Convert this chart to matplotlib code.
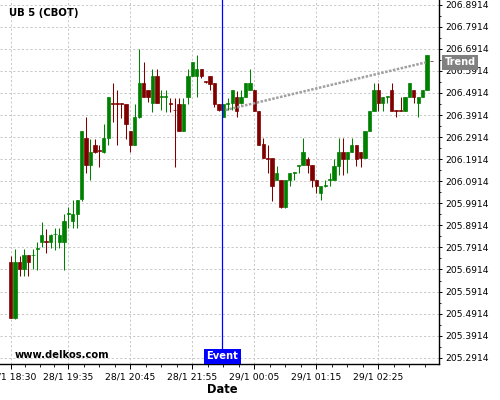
import matplotlib
matplotlib.use("Agg")
import matplotlib.pyplot as plt
import matplotlib.transforms as mtransforms
import numpy as np
import pandas as pd

# ---- data (5-minute bars, UB CBOT) ----
opens = [205.726, 205.472, 205.726, 205.695, 205.757, 205.755, 205.785, 205.817, 205.820, 205.817,
         205.850, 205.817, 205.817, 205.944, 205.911, 205.942, 206.009, 206.287, 206.163, 206.255,
         206.232, 206.224, 206.287, 206.446, 206.446, 206.446, 206.441, 206.318, 206.257, 206.382,
         206.536, 206.505, 206.444, 206.568, 206.472, 206.472, 206.446, 206.416, 206.441, 206.320,
         206.474, 206.568, 206.568, 206.599, 206.544, 206.568, 206.536, 206.441, 206.384, 206.442,
         206.444, 206.472, 206.444, 206.474, 206.505, 206.505, 206.409, 206.259, 206.197, 206.195,
         206.097, 206.097, 205.973, 206.097, 206.128, 206.161, 206.163, 206.193, 206.163, 206.097,
         206.039, 206.070, 206.099, 206.097, 206.160, 206.225, 206.193, 206.225, 206.255, 206.225,
         206.195, 206.320, 206.410, 206.505, 206.444, 206.472, 206.505, 206.412, 206.412, 206.410,
         206.474, 206.505, 206.444, 206.474, 206.505, 206.638]
highs = [205.754, 205.782, 205.754, 205.782, 205.757, 205.782, 205.814, 205.908, 205.875, 205.850,
         205.878, 205.878, 205.943, 205.974, 206.005, 206.006, 206.318, 206.381, 206.284, 206.284,
         206.255, 206.351, 206.473, 206.535, 206.505, 206.446, 206.441, 206.318, 206.441, 206.689,
         206.633, 206.505, 206.599, 206.599, 206.505, 206.505, 206.470, 206.470, 206.470, 206.470,
         206.599, 206.630, 206.663, 206.599, 206.544, 206.568, 206.536, 206.441, 206.441, 206.470,
         206.505, 206.500, 206.505, 206.536, 206.599, 206.505, 206.409, 206.286, 206.255, 206.195,
         206.160, 206.097, 206.097, 206.130, 206.132, 206.165, 206.286, 206.200, 206.163, 206.097,
         206.069, 206.097, 206.130, 206.193, 206.286, 206.286, 206.225, 206.286, 206.255, 206.225,
         206.320, 206.410, 206.535, 206.535, 206.474, 206.476, 206.535, 206.412, 206.472, 206.474,
         206.535, 206.505, 206.474, 206.505, 206.663, 206.638]
lows = [205.470, 205.468, 205.661, 205.661, 205.661, 205.692, 205.690, 205.794, 205.764, 205.787,
        205.779, 205.790, 205.690, 205.879, 205.878, 205.879, 206.000, 206.130, 206.097, 206.218,
        206.157, 206.218, 206.255, 206.361, 206.255, 206.376, 206.284, 206.225, 206.257, 206.380,
        206.474, 206.450, 206.406, 206.444, 206.414, 206.406, 206.406, 206.157, 206.320, 206.320,
        206.440, 206.568, 206.474, 206.560, 206.536, 206.505, 206.430, 206.410, 206.384, 206.414,
        206.414, 206.381, 206.441, 206.474, 206.505, 206.409, 206.255, 206.195, 206.127, 206.003,
        206.097, 205.970, 205.970, 206.070, 206.097, 206.127, 206.163, 206.130, 206.066, 206.036,
        206.006, 206.066, 206.069, 206.097, 206.120, 206.120, 206.127, 206.225, 206.160, 206.157,
        206.195, 206.320, 206.410, 206.410, 206.410, 206.444, 206.410, 206.381, 206.408, 206.410,
        206.474, 206.444, 206.381, 206.474, 206.505, 206.634]
closes = [205.472, 205.726, 205.695, 205.757, 205.726, 205.759, 205.789, 205.847, 205.816, 205.847,
          205.854, 205.847, 205.911, 205.948, 205.941, 206.006, 206.318, 206.163, 206.224, 206.224,
          206.228, 206.287, 206.473, 206.442, 206.442, 206.442, 206.350, 206.257, 206.382, 206.536,
          206.474, 206.474, 206.568, 206.444, 206.476, 206.476, 206.442, 206.412, 206.320, 206.441,
          206.568, 206.630, 206.599, 206.568, 206.540, 206.534, 206.441, 206.414, 206.441, 206.446,
          206.505, 206.411, 206.472, 206.536, 206.535, 206.409, 206.255, 206.195, 206.193, 206.069,
          206.130, 205.973, 206.097, 206.130, 206.132, 206.165, 206.225, 206.163, 206.097, 206.069,
          206.069, 206.074, 206.103, 206.160, 206.225, 206.193, 206.225, 206.255, 206.193, 206.195,
          206.320, 206.410, 206.505, 206.444, 206.474, 206.476, 206.410, 206.408, 206.408, 206.474,
          206.535, 206.474, 206.474, 206.505, 206.663, 206.634]

# bar times: session break between 21:55 and 23:00
times = list(pd.date_range("2024-01-28 18:30", "2024-01-28 21:55", freq="5min")) + \
        list(pd.date_range("2024-01-28 23:00", "2024-01-29 03:25", freq="5min"))

tick_labels = ["28/1 18:30", "28/1 19:35", "28/1 20:45", "28/1 21:55",
               "29/1 00:05", "29/1 01:15", "29/1 02:25"]
y_tick_values = [205.2914, 205.3914, 205.4914, 205.5914, 205.6914, 205.7914, 205.8914,
                 205.9914, 206.0914, 206.1914, 206.2914, 206.3914, 206.4914, 206.5914,
                 206.6914, 206.7914, 206.8914]

trend_index = [48.5, 93.7]
trend_value = [206.414, 206.630]
event_index = 47.8

# ---- figure ----
fig = plt.figure(figsize=(5, 4), dpi=100)
ax = fig.add_axes([0.0, 0.089, 0.8786, 0.911])

x = np.arange(len(opens))
o = np.array(opens); h = np.array(highs); l = np.array(lows); c = np.array(closes)
up = c >= o
green = "#008000"
red = "#800000"
cols = np.where(up, green, red)

ax.vlines(x, l, h, colors=cols, linewidth=0.75, zorder=3)
ax.bar(x, np.abs(c - o), bottom=np.minimum(o, c), width=0.75, color=cols,
       edgecolor=cols, linewidth=0.5, zorder=4)

# trend line
ax.plot(trend_index, trend_value, color="#a0a0a0", linewidth=1.8,
        linestyle=(0, (1, 0.6)), zorder=5)

# event line
ax.axvline(event_index, color="#0000ff", linewidth=0.9, zorder=6)

ax.set_xlim(-2.42, 96.75)
ax.set_ylim(205.2612, 206.9127)

# x ticks
label_to_idx = {t.strftime("%d/%m %H:%M").lstrip("0").replace("/01", "/1"): i for i, t in enumerate(times)}
tick_idx = [label_to_idx[s] for s in tick_labels]
ax.set_xticks(tick_idx)
ax.set_xticklabels(tick_labels, fontsize=6.7)
minor = []
for a, b in zip(tick_idx[:-1], tick_idx[1:]):
    minor += [a + (b - a) * k / 4 for k in (1, 2, 3)]
step = (tick_idx[-1] - tick_idx[-2]) / 4
minor += [tick_idx[-1] + step * k for k in (1, 2, 3)]
ax.set_xticks(minor, minor=True)

# y ticks on right
ax.yaxis.tick_right()
ax.set_yticks(y_tick_values)
ax.set_yticklabels([f"{v:.4f}" for v in y_tick_values], fontsize=6.6)
ax.set_yticks([v + 0.05 for v in y_tick_values[:-1]], minor=True)

ax.tick_params(axis="x", which="major", length=3.6, width=0.7, pad=2.5, direction="out")
ax.tick_params(axis="x", which="minor", length=2.2, width=0.6, direction="out")
ax.tick_params(axis="y", which="major", length=2.4, width=0.7, pad=1.8, direction="out")
ax.tick_params(axis="y", which="minor", length=1.5, width=0.6, direction="out")

for s in ("left", "top"):
    ax.spines[s].set_visible(False)
for s in ("right", "bottom"):
    ax.spines[s].set_linewidth(1.0)
    ax.spines[s].set_color("black")

ax.grid(True, which="major", color="#c8c8c8", linestyle=(0, (2.2, 2.2)), linewidth=0.7)
ax.set_axisbelow(True)

# texts
ax.text(0.02, 0.965, "UB 5 (CBOT)", transform=ax.transAxes, fontsize=7.3,
        fontweight="bold", ha="left", va="center")
ax.text(0.034, 0.027, "www.delkos.com", transform=ax.transAxes, fontsize=7.2,
        fontweight="bold", ha="left", va="center")

trans_e = mtransforms.blended_transform_factory(ax.transData, ax.transAxes)
ax.text(event_index, 0.022, "Event", transform=trans_e, fontsize=7.2, fontweight="bold",
        color="white", ha="center", va="center",
        bbox=dict(boxstyle="square,pad=0.28", fc="#0000ff", ec="none"), zorder=7)

trans_t = mtransforms.blended_transform_factory(ax.transAxes, ax.transData)
ax.text(1.012, trend_value[-1], "Trend", transform=trans_t, fontsize=7.0, fontweight="bold",
        color="white", ha="left", va="center", clip_on=False,
        bbox=dict(boxstyle="square,pad=0.25", fc="#808080", ec="none"), zorder=7)

fig.text(0.444, 0.027, "Date", fontsize=8.3, fontweight="bold", ha="center", va="center")

fig.savefig("out.png", dpi=100)
